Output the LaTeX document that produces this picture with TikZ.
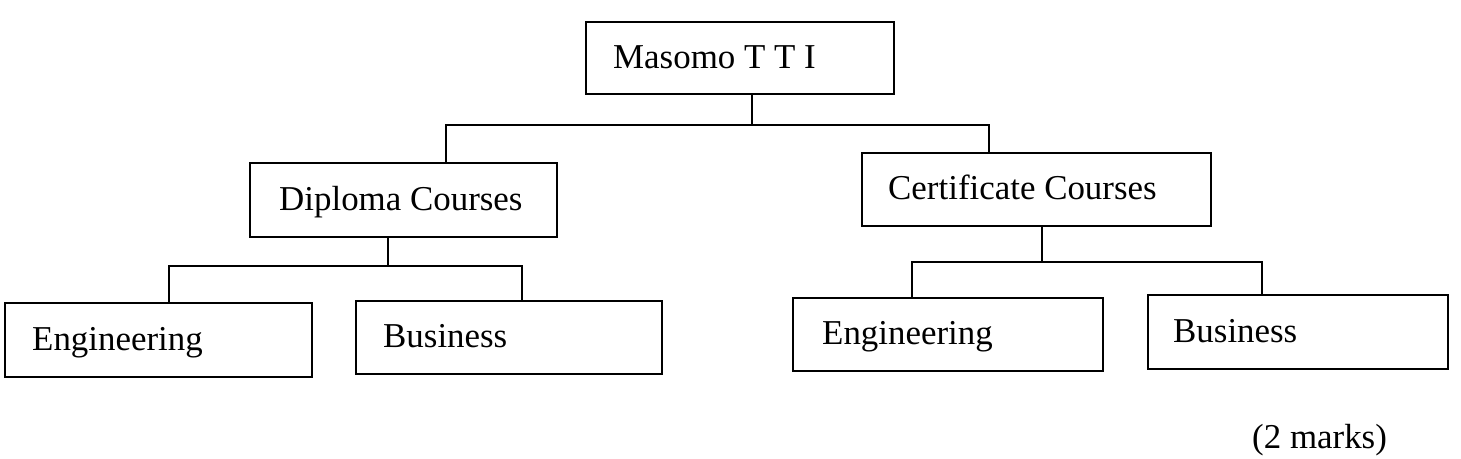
\documentclass[tikz,border=0pt]{standalone}
\usepackage{fontspec}
\setmainfont{Liberation Serif}
\begin{document}
\begin{tikzpicture}[x=1pt,y=-1pt,
  box/.style={draw=black, line width=2pt, rectangle, inner sep=0pt},
  lbl/.style={inner sep=0pt, anchor=base west, font=\fontsize{34.9}{40}\selectfont},
  conn/.style={draw=black, line width=2pt}]
\useasboundingbox (0,0) rectangle (1461,458);
% boxes
\node[box, minimum width=308pt, minimum height=72pt] (top)  at (740,58) {};
\node[box, minimum width=307pt, minimum height=74pt] (dip)  at (403.5,200) {};
\node[box, minimum width=349pt, minimum height=73pt] (cert) at (1036.5,189.5) {};
\node[box, minimum width=307pt, minimum height=74pt] (eng1) at (158.5,340) {};
\node[box, minimum width=306pt, minimum height=73pt] (bus1) at (509,337.5) {};
\node[box, minimum width=310pt, minimum height=73pt] (eng2) at (948,334.5) {};
\node[box, minimum width=300pt, minimum height=74pt] (bus2) at (1298,332) {};
% texts
\node[lbl] (ttop)  at (613,68)  {Masomo T T I};
\node[lbl] (tdip)  at (279,210) {Diploma Courses};
\node[lbl] (tcert) at (888,199) {Certificate Courses};
\node[lbl] (teng1) at (32,350)  {Engineering};
\node[lbl] (tbus1) at (383,347) {Business};
\node[lbl] (teng2) at (822,344) {Engineering};
\node[lbl] (tbus2) at (1173,342) {Business};
\node[lbl] (marks) at (1252,448) {(2 marks)};
% junction coordinates
\coordinate (j0) at (752,125);
\coordinate (j0l) at (446,125);
\coordinate (j0r) at (989,125);
\coordinate (j1) at (388,266);
\coordinate (j1l) at (169,266);
\coordinate (j1r) at (522,266);
\coordinate (j2) at (1042,262);
\coordinate (j2l) at (912,262);
\coordinate (j2r) at (1262,262);
% connectors
\draw[conn] (top.south -| j0) -- (j0);
\draw[conn] (j0l |- dip.north) -- (j0l) -- (j0r) -- (j0r |- cert.north);
\draw[conn] (dip.south -| j1) -- (j1);
\draw[conn] (j1l |- eng1.north) -- (j1l) -- (j1r) -- (j1r |- bus1.north);
\draw[conn] (cert.south -| j2) -- (j2);
\draw[conn] (j2l |- eng2.north) -- (j2l) -- (j2r) -- (j2r |- bus2.north);
\end{tikzpicture}
\end{document}
